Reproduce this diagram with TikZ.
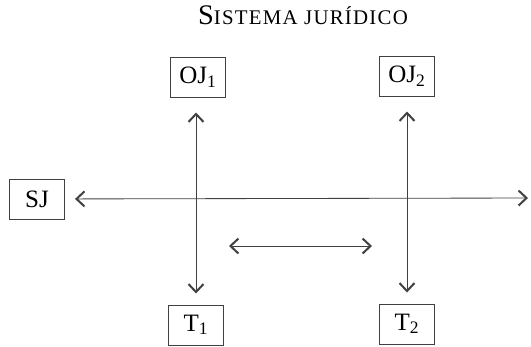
\documentclass[tikz,border=0pt]{standalone}
\usepackage{fontspec}
\setmainfont{Liberation Serif}
\usetikzlibrary{arrows.meta}

\begin{document}
\begin{tikzpicture}[
        x=0.6pt, y=-0.6pt,
        >={Straight Barb[length=4.8pt,width=9pt,line width=1.2pt]},
        box/.style={
            rectangle,
            draw=black!75,
            line width=0.6pt,
            minimum width=33pt,
            minimum height=24pt,
            inner sep=0pt,
            font=\fontsize{15}{17}\selectfont
        },
        arrow/.style={
            <->,
            line width=0.5pt,
            draw=black!75
        }
    ]

    \useasboundingbox (0,0) rectangle (531,346);

    \node[font=\fontsize{17}{19}\selectfont\addfontfeature{LetterSpace=6}] (title) at (303,15)
        {S{\fontsize{12.5}{14}\selectfont ISTEMA JURÍDICO}};

    \node[box] (oj_one) at (198,77)  {OJ\textsubscript{1}};
    \node[box] (oj_two) at (407,76)  {OJ\textsubscript{2}};
    \node[box] (sj)     at (37,199)  {SJ};
    \node[box] (t_one)  at (196,325) {T\textsubscript{1}};
    \node[box] (t_two)  at (407,324) {T\textsubscript{2}};

    \coordinate (sj_end) at (528,198);
    \coordinate (mid_l)  at (229,246);
    \coordinate (mid_r)  at (372,246);

    \draw[arrow, shorten <=9pt, shorten >=6.6pt] (oj_one.south -| t_one) -- (t_one);
    \draw[arrow, shorten <=9pt, shorten >=6.6pt] (oj_two) -- (t_two);
    \draw[arrow, shorten <=6pt] (sj) -- (sj_end);
    \draw[arrow] (mid_l) -- (mid_r);

\end{tikzpicture}
\end{document}
